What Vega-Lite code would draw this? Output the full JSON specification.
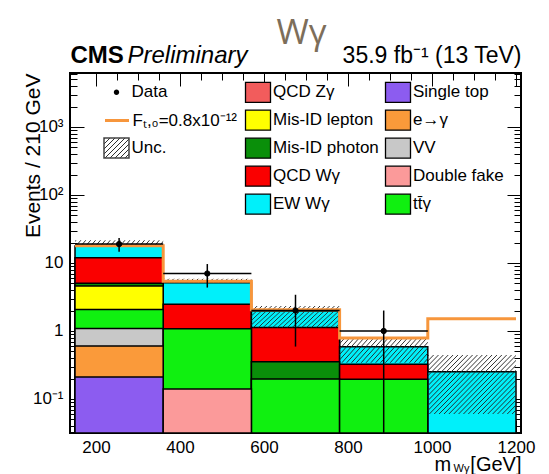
{
  "$schema": "https://vega.github.io/schema/vega-lite/v6.json",
  "width": 451,
  "height": 360,
  "autosize": {"type": "none"},
  "padding": {"left": 70, "top": 73, "right": 28, "bottom": 41},
  "background": "white",
  "title": {"text": "Wγ", "font": "Open Sans", "fontSize": 35, "fontWeight": 400, "color": "#7d6e5a", "anchor": "middle", "frame": "group", "offset": 4, "dx": 6, "dy": 12},
  "datasets": {
    "mc": [
      {"lo": 150, "hi": 360, "process": "Single top", "events": 0.21},
      {"lo": 150, "hi": 360, "process": "e→γ", "events": 0.39},
      {"lo": 150, "hi": 360, "process": "VV", "events": 0.49},
      {"lo": 150, "hi": 360, "process": "tt̄γ", "events": 0.98},
      {"lo": 150, "hi": 360, "process": "Mis-ID lepton", "events": 2.52},
      {"lo": 150, "hi": 360, "process": "Mis-ID photon", "events": 0.44},
      {"lo": 150, "hi": 360, "process": "QCD Wγ", "events": 6.94},
      {"lo": 150, "hi": 360, "process": "EW Wγ", "events": 5.83},
      {"lo": 360, "hi": 570, "process": "Double fake", "events": 0.14},
      {"lo": 360, "hi": 570, "process": "tt̄γ", "events": 0.94},
      {"lo": 360, "hi": 570, "process": "QCD Wγ", "events": 1.39},
      {"lo": 360, "hi": 570, "process": "EW Wγ", "events": 2.66},
      {"lo": 570, "hi": 780, "process": "tt̄γ", "events": 0.197},
      {"lo": 570, "hi": 780, "process": "Mis-ID photon", "events": 0.157},
      {"lo": 570, "hi": 780, "process": "QCD Wγ", "events": 0.77},
      {"lo": 570, "hi": 780, "process": "EW Wγ", "events": 0.85},
      {"lo": 780, "hi": 990, "process": "tt̄γ", "events": 0.195},
      {"lo": 780, "hi": 990, "process": "QCD Wγ", "events": 0.13},
      {"lo": 780, "hi": 990, "process": "EW Wγ", "events": 0.26},
      {"lo": 990, "hi": 1200, "process": "EW Wγ", "events": 0.252}
    ],
    "unc": [
      {"lo": 150, "hi": 360, "down": 17.8, "up": 21.6},
      {"lo": 360, "hi": 570, "down": 5.13, "up": 5.88},
      {"lo": 570, "hi": 780, "down": 1.13, "up": 2.33},
      {"lo": 780, "hi": 990, "down": 0.34, "up": 0.81},
      {"lo": 990, "hi": 1200, "down": 0.06, "up": 0.444}
    ],
    "aqgc": [
      {"edge": 150, "events": 18.0},
      {"edge": 360, "events": 5.4},
      {"edge": 570, "events": 2.05},
      {"edge": 780, "events": 0.79},
      {"edge": 990, "events": 1.52},
      {"edge": 1200, "events": 1.52}
    ],
    "obs": [
      {"lo": 150, "hi": 360, "center": 255, "events": 19, "low": 14.64, "high": 23.36},
      {"lo": 360, "hi": 570, "center": 465, "events": 7, "low": 4.35, "high": 9.65},
      {"lo": 570, "hi": 780, "center": 675, "events": 2, "low": 0.59, "high": 3.41},
      {"lo": 780, "hi": 990, "center": 885, "events": 1, "low": 0, "high": 2}
    ]
  },
  "resolve": {"axis": {"x": "independent", "y": "independent"}},
  "layer": [
    {
      "data": {"name": "mc"},
      "transform": [{"stack": "events", "groupby": ["lo"], "as": ["base", "top"]}],
      "mark": {"type": "bar", "orient": "vertical", "stroke": "black", "strokeWidth": 1.5, "opacity": 1},
      "encoding": {
        "x": {
          "field": "lo", "type": "quantitative",
          "scale": {"domain": [150, 1200], "nice": false, "zero": false},
          "axis": {
            "orient": "bottom",
            "values": [200, 250, 300, 350, 400, 450, 500, 550, 600, 650, 700, 750, 800, 850, 900, 950, 1000, 1050, 1100, 1150, 1200],
            "format": "d",
            "labelExpr": "datum.value % 200 === 0 ? datum.label : ''",
            "tickSize": {"condition": {"test": "datum.value % 200 === 0", "value": -13}, "value": -7},
            "labelPadding": 19,
            "labelFontSize": 17,
            "title": "[GeV]",
            "titleFontSize": 20,
            "titleFontWeight": "normal",
            "titleX": 451,
            "titleY": 37,
            "titleAlign": "right",
            "titleBaseline": "alphabetic"
          }
        },
        "x2": {"field": "hi"},
        "y": {
          "field": "top", "type": "quantitative", "stack": null,
          "scale": {"type": "log", "domain": [0.031623, 6220], "nice": false, "clamp": true},
          "axis": {
            "orient": "left",
            "values": [0.04, 0.05, 0.06, 0.07, 0.08, 0.09, 0.1, 0.2, 0.3, 0.4, 0.5, 0.6, 0.7, 0.8, 0.9, 1, 2, 3, 4, 5, 6, 7, 8, 9, 10, 20, 30, 40, 50, 60, 70, 80, 90, 100, 200, 300, 400, 500, 600, 700, 800, 900, 1000, 2000, 3000, 4000, 5000, 6000],
            "labelExpr": "datum.value === 0.1 ? '10⁻¹' : datum.value === 1 ? '1' : datum.value === 10 ? '10' : datum.value === 100 ? '10²' : datum.value === 1000 ? '10³' : ''",
            "tickSize": {"condition": {"test": "indexof([0.1, 1, 10, 100, 1000], datum.value) >= 0", "value": -14}, "value": -7},
            "labelPadding": 21,
            "labelFontSize": 17,
            "title": "Events / 210 GeV",
            "titleFontSize": 21,
            "titleFontWeight": "normal",
            "titleX": -37,
            "titleY": 0,
            "titleAngle": 270,
            "titleAlign": "right",
            "titleBaseline": "middle"
          }
        },
        "color": {
          "field": "process", "type": "nominal",
          "scale": {
            "domain": ["QCD Zγ", "Mis-ID lepton", "Mis-ID photon", "QCD Wγ", "EW Wγ", "Single top", "e→γ", "VV", "Double fake", "tt̄γ"],
            "range": ["#f25c5c", "#ffff00", "#0a8f0a", "#fa0000", "#00f0fa", "#8c5cf0", "#fa9a3a", "#c8c8c8", "#fb9a9a", "#10f010"]
          },
          "legend": {
            "orient": "none", "legendX": 177, "legendY": 8.2, "direction": "vertical", "columns": 2,
            "title": null, "padding": 0,
            "symbolType": "M-1.25,-1H1.25V1H-1.25Z", "symbolSize": 400,
            "symbolStrokeColor": "black", "symbolStrokeWidth": 1.3, "symbolOpacity": 1,
            "labelFontSize": 17, "labelOffset": 4, "labelLimit": 300,
            "rowPadding": 2, "columnPadding": 3
          }
        },
        "order": {"field": "top", "sort": "descending"}
      }
    },
    {
      "data": {"name": "unc"},
      "transform": [{"filter": "datum.lo < 570"}],
      "mark": {"type": "rect", "strokeWidth": 0, "fill": {"gradient": "linear", "x1": 0, "y1": 0, "x2": 1.052, "y2": 0.058, "stops": [
        {"offset": 0, "color": "rgba(35,35,35,0)"}, {"offset": 0.0105, "color": "rgba(35,35,35,0.95)"}, {"offset": 0.0211, "color": "rgba(35,35,35,0)"},
        {"offset": 0.0526, "color": "rgba(35,35,35,0)"}, {"offset": 0.0632, "color": "rgba(35,35,35,0.95)"}, {"offset": 0.0737, "color": "rgba(35,35,35,0)"},
        {"offset": 0.1053, "color": "rgba(35,35,35,0)"}, {"offset": 0.1158, "color": "rgba(35,35,35,0.95)"}, {"offset": 0.1263, "color": "rgba(35,35,35,0)"},
        {"offset": 0.1579, "color": "rgba(35,35,35,0)"}, {"offset": 0.1684, "color": "rgba(35,35,35,0.95)"}, {"offset": 0.1789, "color": "rgba(35,35,35,0)"},
        {"offset": 0.2105, "color": "rgba(35,35,35,0)"}, {"offset": 0.2211, "color": "rgba(35,35,35,0.95)"}, {"offset": 0.2316, "color": "rgba(35,35,35,0)"},
        {"offset": 0.2632, "color": "rgba(35,35,35,0)"}, {"offset": 0.2737, "color": "rgba(35,35,35,0.95)"}, {"offset": 0.2842, "color": "rgba(35,35,35,0)"},
        {"offset": 0.3158, "color": "rgba(35,35,35,0)"}, {"offset": 0.3263, "color": "rgba(35,35,35,0.95)"}, {"offset": 0.3368, "color": "rgba(35,35,35,0)"},
        {"offset": 0.3684, "color": "rgba(35,35,35,0)"}, {"offset": 0.3789, "color": "rgba(35,35,35,0.95)"}, {"offset": 0.3895, "color": "rgba(35,35,35,0)"},
        {"offset": 0.4211, "color": "rgba(35,35,35,0)"}, {"offset": 0.4316, "color": "rgba(35,35,35,0.95)"}, {"offset": 0.4421, "color": "rgba(35,35,35,0)"},
        {"offset": 0.4737, "color": "rgba(35,35,35,0)"}, {"offset": 0.4842, "color": "rgba(35,35,35,0.95)"}, {"offset": 0.4947, "color": "rgba(35,35,35,0)"},
        {"offset": 0.5263, "color": "rgba(35,35,35,0)"}, {"offset": 0.5368, "color": "rgba(35,35,35,0.95)"}, {"offset": 0.5474, "color": "rgba(35,35,35,0)"},
        {"offset": 0.5789, "color": "rgba(35,35,35,0)"}, {"offset": 0.5895, "color": "rgba(35,35,35,0.95)"}, {"offset": 0.6, "color": "rgba(35,35,35,0)"},
        {"offset": 0.6316, "color": "rgba(35,35,35,0)"}, {"offset": 0.6421, "color": "rgba(35,35,35,0.95)"}, {"offset": 0.6526, "color": "rgba(35,35,35,0)"},
        {"offset": 0.6842, "color": "rgba(35,35,35,0)"}, {"offset": 0.6947, "color": "rgba(35,35,35,0.95)"}, {"offset": 0.7053, "color": "rgba(35,35,35,0)"},
        {"offset": 0.7368, "color": "rgba(35,35,35,0)"}, {"offset": 0.7474, "color": "rgba(35,35,35,0.95)"}, {"offset": 0.7579, "color": "rgba(35,35,35,0)"},
        {"offset": 0.7895, "color": "rgba(35,35,35,0)"}, {"offset": 0.8, "color": "rgba(35,35,35,0.95)"}, {"offset": 0.8105, "color": "rgba(35,35,35,0)"},
        {"offset": 0.8421, "color": "rgba(35,35,35,0)"}, {"offset": 0.8526, "color": "rgba(35,35,35,0.95)"}, {"offset": 0.8632, "color": "rgba(35,35,35,0)"},
        {"offset": 0.8947, "color": "rgba(35,35,35,0)"}, {"offset": 0.9053, "color": "rgba(35,35,35,0.95)"}, {"offset": 0.9158, "color": "rgba(35,35,35,0)"},
        {"offset": 0.9474, "color": "rgba(35,35,35,0)"}, {"offset": 0.9579, "color": "rgba(35,35,35,0.95)"}, {"offset": 0.9684, "color": "rgba(35,35,35,0)"}
      ]}},
      "encoding": {
        "x": {
          "field": "lo", "type": "quantitative",
          "axis": {
            "orient": "top",
            "values": [200, 250, 300, 350, 400, 450, 500, 550, 600, 650, 700, 750, 800, 850, 900, 950, 1000, 1050, 1100, 1150, 1200],
            "labels": false,
            "tickSize": {"condition": {"test": "datum.value % 200 === 0", "value": -13}, "value": -7},
            "title": "35.9 fb⁻¹ (13 TeV)",
            "titleFontSize": 23,
            "titleFontWeight": "normal",
            "titleX": 451,
            "titleY": -11,
            "titleAlign": "right",
            "titleBaseline": "alphabetic"
          }
        },
        "x2": {"field": "hi"},
        "y": {
          "field": "down", "type": "quantitative",
          "axis": {
            "orient": "right",
            "values": [0.04, 0.05, 0.06, 0.07, 0.08, 0.09, 0.1, 0.2, 0.3, 0.4, 0.5, 0.6, 0.7, 0.8, 0.9, 1, 2, 3, 4, 5, 6, 7, 8, 9, 10, 20, 30, 40, 50, 60, 70, 80, 90, 100, 200, 300, 400, 500, 600, 700, 800, 900, 1000, 2000, 3000, 4000, 5000, 6000],
            "labels": false,
            "tickSize": {"condition": {"test": "indexof([0.1, 1, 10, 100, 1000], datum.value) >= 0", "value": -14}, "value": -7},
            "title": null
          }
        },
        "y2": {"field": "up"}
      }
    },
    {
      "data": {"name": "unc"},
      "transform": [{"filter": "datum.lo >= 570 && datum.lo < 990"}],
      "mark": {"type": "rect", "strokeWidth": 0, "fill": {"gradient": "linear", "x1": 0, "y1": 0, "x2": 1.18, "y2": 0.307, "stops": [
        {"offset": 0, "color": "rgba(35,35,35,0)"}, {"offset": 0.0087, "color": "rgba(35,35,35,0.95)"}, {"offset": 0.0174, "color": "rgba(35,35,35,0)"},
        {"offset": 0.0435, "color": "rgba(35,35,35,0)"}, {"offset": 0.0522, "color": "rgba(35,35,35,0.95)"}, {"offset": 0.0609, "color": "rgba(35,35,35,0)"},
        {"offset": 0.087, "color": "rgba(35,35,35,0)"}, {"offset": 0.0957, "color": "rgba(35,35,35,0.95)"}, {"offset": 0.1043, "color": "rgba(35,35,35,0)"},
        {"offset": 0.1304, "color": "rgba(35,35,35,0)"}, {"offset": 0.1391, "color": "rgba(35,35,35,0.95)"}, {"offset": 0.1478, "color": "rgba(35,35,35,0)"},
        {"offset": 0.1739, "color": "rgba(35,35,35,0)"}, {"offset": 0.1826, "color": "rgba(35,35,35,0.95)"}, {"offset": 0.1913, "color": "rgba(35,35,35,0)"},
        {"offset": 0.2174, "color": "rgba(35,35,35,0)"}, {"offset": 0.2261, "color": "rgba(35,35,35,0.95)"}, {"offset": 0.2348, "color": "rgba(35,35,35,0)"},
        {"offset": 0.2609, "color": "rgba(35,35,35,0)"}, {"offset": 0.2696, "color": "rgba(35,35,35,0.95)"}, {"offset": 0.2783, "color": "rgba(35,35,35,0)"},
        {"offset": 0.3043, "color": "rgba(35,35,35,0)"}, {"offset": 0.313, "color": "rgba(35,35,35,0.95)"}, {"offset": 0.3217, "color": "rgba(35,35,35,0)"},
        {"offset": 0.3478, "color": "rgba(35,35,35,0)"}, {"offset": 0.3565, "color": "rgba(35,35,35,0.95)"}, {"offset": 0.3652, "color": "rgba(35,35,35,0)"},
        {"offset": 0.3913, "color": "rgba(35,35,35,0)"}, {"offset": 0.4, "color": "rgba(35,35,35,0.95)"}, {"offset": 0.4087, "color": "rgba(35,35,35,0)"},
        {"offset": 0.4348, "color": "rgba(35,35,35,0)"}, {"offset": 0.4435, "color": "rgba(35,35,35,0.95)"}, {"offset": 0.4522, "color": "rgba(35,35,35,0)"},
        {"offset": 0.4783, "color": "rgba(35,35,35,0)"}, {"offset": 0.487, "color": "rgba(35,35,35,0.95)"}, {"offset": 0.4957, "color": "rgba(35,35,35,0)"},
        {"offset": 0.5217, "color": "rgba(35,35,35,0)"}, {"offset": 0.5304, "color": "rgba(35,35,35,0.95)"}, {"offset": 0.5391, "color": "rgba(35,35,35,0)"},
        {"offset": 0.5652, "color": "rgba(35,35,35,0)"}, {"offset": 0.5739, "color": "rgba(35,35,35,0.95)"}, {"offset": 0.5826, "color": "rgba(35,35,35,0)"},
        {"offset": 0.6087, "color": "rgba(35,35,35,0)"}, {"offset": 0.6174, "color": "rgba(35,35,35,0.95)"}, {"offset": 0.6261, "color": "rgba(35,35,35,0)"},
        {"offset": 0.6522, "color": "rgba(35,35,35,0)"}, {"offset": 0.6609, "color": "rgba(35,35,35,0.95)"}, {"offset": 0.6696, "color": "rgba(35,35,35,0)"},
        {"offset": 0.6957, "color": "rgba(35,35,35,0)"}, {"offset": 0.7043, "color": "rgba(35,35,35,0.95)"}, {"offset": 0.713, "color": "rgba(35,35,35,0)"},
        {"offset": 0.7391, "color": "rgba(35,35,35,0)"}, {"offset": 0.7478, "color": "rgba(35,35,35,0.95)"}, {"offset": 0.7565, "color": "rgba(35,35,35,0)"},
        {"offset": 0.7826, "color": "rgba(35,35,35,0)"}, {"offset": 0.7913, "color": "rgba(35,35,35,0.95)"}, {"offset": 0.8, "color": "rgba(35,35,35,0)"},
        {"offset": 0.8261, "color": "rgba(35,35,35,0)"}, {"offset": 0.8348, "color": "rgba(35,35,35,0.95)"}, {"offset": 0.8435, "color": "rgba(35,35,35,0)"},
        {"offset": 0.8696, "color": "rgba(35,35,35,0)"}, {"offset": 0.8783, "color": "rgba(35,35,35,0.95)"}, {"offset": 0.887, "color": "rgba(35,35,35,0)"},
        {"offset": 0.913, "color": "rgba(35,35,35,0)"}, {"offset": 0.9217, "color": "rgba(35,35,35,0.95)"}, {"offset": 0.9304, "color": "rgba(35,35,35,0)"},
        {"offset": 0.9565, "color": "rgba(35,35,35,0)"}, {"offset": 0.9652, "color": "rgba(35,35,35,0.95)"}, {"offset": 0.9739, "color": "rgba(35,35,35,0)"}
      ]}},
      "encoding": {
        "x": {"field": "lo", "type": "quantitative", "axis": null},
        "x2": {"field": "hi"},
        "y": {"field": "down", "type": "quantitative", "axis": null},
        "y2": {"field": "up"}
      }
    },
    {
      "data": {"name": "unc"},
      "transform": [{"filter": "datum.lo >= 990"}],
      "mark": {"type": "rect", "strokeWidth": 0, "fill": {"gradient": "linear", "x1": 0, "y1": 0, "x2": 1.157, "y2": 0.76, "stops": [
        {"offset": 0, "color": "rgba(35,35,35,0)"}, {"offset": 0.0067, "color": "rgba(35,35,35,0.95)"}, {"offset": 0.0133, "color": "rgba(35,35,35,0)"},
        {"offset": 0.0333, "color": "rgba(35,35,35,0)"}, {"offset": 0.04, "color": "rgba(35,35,35,0.95)"}, {"offset": 0.0467, "color": "rgba(35,35,35,0)"},
        {"offset": 0.0667, "color": "rgba(35,35,35,0)"}, {"offset": 0.0733, "color": "rgba(35,35,35,0.95)"}, {"offset": 0.08, "color": "rgba(35,35,35,0)"},
        {"offset": 0.1, "color": "rgba(35,35,35,0)"}, {"offset": 0.1067, "color": "rgba(35,35,35,0.95)"}, {"offset": 0.1133, "color": "rgba(35,35,35,0)"},
        {"offset": 0.1333, "color": "rgba(35,35,35,0)"}, {"offset": 0.14, "color": "rgba(35,35,35,0.95)"}, {"offset": 0.1467, "color": "rgba(35,35,35,0)"},
        {"offset": 0.1667, "color": "rgba(35,35,35,0)"}, {"offset": 0.1733, "color": "rgba(35,35,35,0.95)"}, {"offset": 0.18, "color": "rgba(35,35,35,0)"},
        {"offset": 0.2, "color": "rgba(35,35,35,0)"}, {"offset": 0.2067, "color": "rgba(35,35,35,0.95)"}, {"offset": 0.2133, "color": "rgba(35,35,35,0)"},
        {"offset": 0.2333, "color": "rgba(35,35,35,0)"}, {"offset": 0.24, "color": "rgba(35,35,35,0.95)"}, {"offset": 0.2467, "color": "rgba(35,35,35,0)"},
        {"offset": 0.2667, "color": "rgba(35,35,35,0)"}, {"offset": 0.2733, "color": "rgba(35,35,35,0.95)"}, {"offset": 0.28, "color": "rgba(35,35,35,0)"},
        {"offset": 0.3, "color": "rgba(35,35,35,0)"}, {"offset": 0.3067, "color": "rgba(35,35,35,0.95)"}, {"offset": 0.3133, "color": "rgba(35,35,35,0)"},
        {"offset": 0.3333, "color": "rgba(35,35,35,0)"}, {"offset": 0.34, "color": "rgba(35,35,35,0.95)"}, {"offset": 0.3467, "color": "rgba(35,35,35,0)"},
        {"offset": 0.3667, "color": "rgba(35,35,35,0)"}, {"offset": 0.3733, "color": "rgba(35,35,35,0.95)"}, {"offset": 0.38, "color": "rgba(35,35,35,0)"},
        {"offset": 0.4, "color": "rgba(35,35,35,0)"}, {"offset": 0.4067, "color": "rgba(35,35,35,0.95)"}, {"offset": 0.4133, "color": "rgba(35,35,35,0)"},
        {"offset": 0.4333, "color": "rgba(35,35,35,0)"}, {"offset": 0.44, "color": "rgba(35,35,35,0.95)"}, {"offset": 0.4467, "color": "rgba(35,35,35,0)"},
        {"offset": 0.4667, "color": "rgba(35,35,35,0)"}, {"offset": 0.4733, "color": "rgba(35,35,35,0.95)"}, {"offset": 0.48, "color": "rgba(35,35,35,0)"},
        {"offset": 0.5, "color": "rgba(35,35,35,0)"}, {"offset": 0.5067, "color": "rgba(35,35,35,0.95)"}, {"offset": 0.5133, "color": "rgba(35,35,35,0)"},
        {"offset": 0.5333, "color": "rgba(35,35,35,0)"}, {"offset": 0.54, "color": "rgba(35,35,35,0.95)"}, {"offset": 0.5467, "color": "rgba(35,35,35,0)"},
        {"offset": 0.5667, "color": "rgba(35,35,35,0)"}, {"offset": 0.5733, "color": "rgba(35,35,35,0.95)"}, {"offset": 0.58, "color": "rgba(35,35,35,0)"},
        {"offset": 0.6, "color": "rgba(35,35,35,0)"}, {"offset": 0.6067, "color": "rgba(35,35,35,0.95)"}, {"offset": 0.6133, "color": "rgba(35,35,35,0)"},
        {"offset": 0.6333, "color": "rgba(35,35,35,0)"}, {"offset": 0.64, "color": "rgba(35,35,35,0.95)"}, {"offset": 0.6467, "color": "rgba(35,35,35,0)"},
        {"offset": 0.6667, "color": "rgba(35,35,35,0)"}, {"offset": 0.6733, "color": "rgba(35,35,35,0.95)"}, {"offset": 0.68, "color": "rgba(35,35,35,0)"},
        {"offset": 0.7, "color": "rgba(35,35,35,0)"}, {"offset": 0.7067, "color": "rgba(35,35,35,0.95)"}, {"offset": 0.7133, "color": "rgba(35,35,35,0)"},
        {"offset": 0.7333, "color": "rgba(35,35,35,0)"}, {"offset": 0.74, "color": "rgba(35,35,35,0.95)"}, {"offset": 0.7467, "color": "rgba(35,35,35,0)"},
        {"offset": 0.7667, "color": "rgba(35,35,35,0)"}, {"offset": 0.7733, "color": "rgba(35,35,35,0.95)"}, {"offset": 0.78, "color": "rgba(35,35,35,0)"},
        {"offset": 0.8, "color": "rgba(35,35,35,0)"}, {"offset": 0.8067, "color": "rgba(35,35,35,0.95)"}, {"offset": 0.8133, "color": "rgba(35,35,35,0)"},
        {"offset": 0.8333, "color": "rgba(35,35,35,0)"}, {"offset": 0.84, "color": "rgba(35,35,35,0.95)"}, {"offset": 0.8467, "color": "rgba(35,35,35,0)"},
        {"offset": 0.8667, "color": "rgba(35,35,35,0)"}, {"offset": 0.8733, "color": "rgba(35,35,35,0.95)"}, {"offset": 0.88, "color": "rgba(35,35,35,0)"},
        {"offset": 0.9, "color": "rgba(35,35,35,0)"}, {"offset": 0.9067, "color": "rgba(35,35,35,0.95)"}, {"offset": 0.9133, "color": "rgba(35,35,35,0)"},
        {"offset": 0.9333, "color": "rgba(35,35,35,0)"}, {"offset": 0.94, "color": "rgba(35,35,35,0.95)"}, {"offset": 0.9467, "color": "rgba(35,35,35,0)"},
        {"offset": 0.9667, "color": "rgba(35,35,35,0)"}, {"offset": 0.9733, "color": "rgba(35,35,35,0.95)"}, {"offset": 0.98, "color": "rgba(35,35,35,0)"}
      ]}},
      "encoding": {
        "x": {"field": "lo", "type": "quantitative", "axis": null},
        "x2": {"field": "hi"},
        "y": {"field": "down", "type": "quantitative", "axis": null},
        "y2": {"field": "up"}
      }
    },
    {
      "data": {"name": "aqgc"},
      "mark": {"type": "line", "interpolate": "step-after", "color": "#f7963c", "strokeWidth": 3, "clip": true},
      "encoding": {
        "x": {
          "field": "edge", "type": "quantitative",
          "axis": {"orient": "top", "ticks": false, "labels": false, "domain": false, "grid": false,
            "title": "CMS", "titleFontSize": 24, "titleFontWeight": "bold", "titleX": 0, "titleY": -11, "titleAlign": "left", "titleBaseline": "alphabetic"}
        },
        "y": {"field": "events", "type": "quantitative", "axis": null},
        "strokeDash": {
          "datum": "Fₜ,₀=0.8x10⁻¹²", "type": "nominal",
          "scale": {"range": [[1, 0]]},
          "legend": {
            "orient": "none", "legendX": 35.5, "legendY": 36.1, "title": null, "padding": 0,
            "symbolType": "M-1.2,0H1.2", "symbolSize": 400,
            "symbolStrokeColor": "#f7963c", "symbolStrokeWidth": 3, "symbolOpacity": 1,
            "labelFontSize": 17, "labelOffset": 4, "labelLimit": 300
          }
        }
      }
    },
    {
      "data": {"name": "obs"},
      "mark": {"type": "rule", "color": "black", "strokeWidth": 1.5, "clip": true},
      "encoding": {
        "x": {
          "field": "center", "type": "quantitative",
          "axis": {"orient": "top", "ticks": false, "labels": false, "domain": false, "grid": false,
            "title": "Preliminary", "titleFontSize": 24, "titleFontWeight": "normal", "titleFontStyle": "italic", "titleX": 57, "titleY": -11, "titleAlign": "left", "titleBaseline": "alphabetic"}
        },
        "y": {"field": "low", "type": "quantitative", "axis": null},
        "y2": {"field": "high"},
        "strokeWidth": {
          "datum": "Unc.", "type": "nominal",
          "scale": {"range": [1.5, 1.5]},
          "legend": {
            "orient": "none", "legendX": 35.5, "legendY": 64, "title": null, "padding": 0,
            "symbolType": "M-1.25,-1H1.25V1H-1.25Z", "symbolSize": 400,
            "symbolFillColor": {"value": {"gradient": "linear", "x1": 0, "y1": 0, "x2": 1.098, "y2": 0.878, "stops": [
              {"offset": 0, "color": "rgba(35,35,35,0)"}, {"offset": 0.0222, "color": "rgba(35,35,35,0.95)"}, {"offset": 0.0444, "color": "rgba(35,35,35,0)"},
              {"offset": 0.1111, "color": "rgba(35,35,35,0)"}, {"offset": 0.1333, "color": "rgba(35,35,35,0.95)"}, {"offset": 0.1556, "color": "rgba(35,35,35,0)"},
              {"offset": 0.2222, "color": "rgba(35,35,35,0)"}, {"offset": 0.2444, "color": "rgba(35,35,35,0.95)"}, {"offset": 0.2667, "color": "rgba(35,35,35,0)"},
              {"offset": 0.3333, "color": "rgba(35,35,35,0)"}, {"offset": 0.3556, "color": "rgba(35,35,35,0.95)"}, {"offset": 0.3778, "color": "rgba(35,35,35,0)"},
              {"offset": 0.4444, "color": "rgba(35,35,35,0)"}, {"offset": 0.4667, "color": "rgba(35,35,35,0.95)"}, {"offset": 0.4889, "color": "rgba(35,35,35,0)"},
              {"offset": 0.5556, "color": "rgba(35,35,35,0)"}, {"offset": 0.5778, "color": "rgba(35,35,35,0.95)"}, {"offset": 0.6, "color": "rgba(35,35,35,0)"},
              {"offset": 0.6667, "color": "rgba(35,35,35,0)"}, {"offset": 0.6889, "color": "rgba(35,35,35,0.95)"}, {"offset": 0.7111, "color": "rgba(35,35,35,0)"},
              {"offset": 0.7778, "color": "rgba(35,35,35,0)"}, {"offset": 0.8, "color": "rgba(35,35,35,0.95)"}, {"offset": 0.8222, "color": "rgba(35,35,35,0)"},
              {"offset": 0.8889, "color": "rgba(35,35,35,0)"}, {"offset": 0.9111, "color": "rgba(35,35,35,0.95)"}, {"offset": 0.9333, "color": "rgba(35,35,35,0)"}
            ]}},
            "symbolStrokeColor": "#444444", "symbolOpacity": 1,
            "labelFontSize": 17, "labelOffset": 4, "labelLimit": 300
          }
        }
      }
    },
    {
      "data": {"name": "obs"},
      "mark": {"type": "rule", "color": "black", "strokeWidth": 1.5},
      "encoding": {
        "x": {
          "field": "lo", "type": "quantitative",
          "axis": {"orient": "bottom", "ticks": false, "labels": false, "domain": false, "grid": false,
            "title": "m", "titleFontSize": 20, "titleFontWeight": "normal", "titleX": 364, "titleY": 37, "titleAlign": "left", "titleBaseline": "alphabetic"}
        },
        "x2": {"field": "hi"},
        "y": {"field": "events", "type": "quantitative", "axis": null}
      }
    },
    {
      "data": {"name": "obs"},
      "mark": {"type": "point", "filled": true, "color": "black", "stroke": "black", "strokeWidth": 1, "size": 28},
      "encoding": {
        "x": {
          "field": "center", "type": "quantitative",
          "axis": {"orient": "bottom", "ticks": false, "labels": false, "domain": false, "grid": false,
            "title": "Wγ", "titleFontSize": 11, "titleFontWeight": "normal", "titleX": 383, "titleY": 38.5, "titleAlign": "left", "titleBaseline": "alphabetic"}
        },
        "y": {"field": "events", "type": "quantitative", "axis": null},
        "opacity": {
          "datum": "Data", "type": "nominal",
          "scale": {"range": [1]},
          "legend": {
            "orient": "none", "legendX": 35.5, "legendY": 8.2, "title": null, "padding": 0,
            "symbolType": "M0,-0.95V0.95M0.27,0A0.27,0.27 0 1,1 -0.27,0A0.27,0.27 0 1,1 0.27,0Z", "symbolSize": 400,
            "symbolFillColor": "black", "symbolStrokeColor": "black", "symbolStrokeWidth": 1.5, "symbolOpacity": 1,
            "labelFontSize": 17, "labelOffset": 4, "labelLimit": 300
          }
        }
      }
    }
  ],
  "config": {
    "font": "Liberation Sans",
    "view": {"stroke": "black", "strokeWidth": 2},
    "axis": {
      "domain": false, "grid": false, "tickColor": "black", "tickWidth": 1,
      "labelColor": "black", "titleColor": "black",
      "labelFont": "Liberation Sans", "titleFont": "Liberation Sans",
      "labelFlush": false, "labelOverlap": false, "labelBound": false
    },
    "legend": {"labelFont": "Liberation Sans", "labelColor": "black"}
  }
}
